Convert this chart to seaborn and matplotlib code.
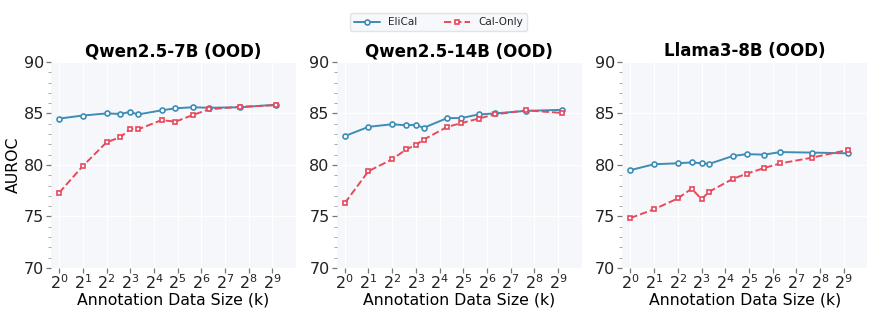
import matplotlib
matplotlib.use('Agg')
import matplotlib.pyplot as plt
import matplotlib.ticker as mticker
import numpy as np
import pandas as pd
import seaborn as sns

# Data (annotation size in k, AUROC)
sizes = [1, 2, 4, 6, 8, 10, 20, 30, 50, 80, 200, 575]

titles = ['Qwen2.5-7B (OOD)', 'Qwen2.5-14B (OOD)', 'Llama3-8B (OOD)']

elical_qwen7 = [84.5, 84.8, 85.0, 84.95, 85.15, 84.9, 85.3, 85.5, 85.6, 85.55, 85.6, 85.85]
calonly_qwen7 = [77.3, 79.9, 82.2, 82.7, 83.5, 83.45, 84.35, 84.2, 84.85, 85.4, 85.65, 85.8]

elical_qwen14 = [82.8, 83.7, 83.95, 83.85, 83.9, 83.6, 84.55, 84.55, 84.9, 85.0, 85.25, 85.35]
calonly_qwen14 = [76.3, 79.4, 80.55, 81.5, 81.95, 82.45, 83.7, 84.05, 84.5, 84.9, 85.3, 85.05]

elical_llama = [79.5, 80.07, 80.16, 80.25, 80.16, 80.1, 80.87, 81.05, 81.0, 81.25, 81.2, 81.13]
calonly_llama = [74.85, 75.7, 76.75, 77.7, 76.68, 77.4, 78.65, 79.15, 79.7, 80.15, 80.7, 81.45]

elical_all = [elical_qwen7, elical_qwen14, elical_llama]
calonly_all = [calonly_qwen7, calonly_qwen14, calonly_llama]

blue = '#3d8db5'
red = '#e8495c'

sns.set_style('darkgrid', {'axes.facecolor': '#f5f7fa', 'grid.color': 'white',
                           'xtick.bottom': True, 'ytick.left': True})
plt.rcParams['font.family'] = ['DejaVu Sans']
plt.rcParams['xtick.major.size'] = 3.5
plt.rcParams['ytick.major.size'] = 3.5
plt.rcParams['ytick.minor.size'] = 2.5

fig, axes = plt.subplots(1, 3, figsize=(8.77, 3.16), dpi=100)
fig.subplots_adjust(left=0.058, right=0.989, top=0.804, bottom=0.152, wspace=0.165)

for i, ax in enumerate(axes):
    df = pd.DataFrame({'size': sizes, 'EliCal': elical_all[i], 'Cal-Only': calonly_all[i]})
    sns.lineplot(data=df, x='size', y='EliCal', ax=ax, color=blue, marker='o',
                 markersize=3.6, markerfacecolor='white', markeredgecolor=blue,
                 markeredgewidth=1.2, linewidth=1.4, label='EliCal')
    sns.lineplot(data=df, x='size', y='Cal-Only', ax=ax, color=red, marker='s',
                 markersize=3.3, markerfacecolor='white', markeredgecolor=red,
                 markeredgewidth=1.2, linewidth=1.4, linestyle='--', label='Cal-Only')
    ax.set_xscale('log', base=2)
    ax.set_xlim(2 ** -0.35, 2 ** 10)
    ax.set_ylim(70, 90)
    ax.xaxis.set_major_locator(mticker.FixedLocator([2 ** k for k in range(10)]))
    ax.xaxis.set_major_formatter(mticker.FuncFormatter(lambda v, p: '$2^{%d}$' % round(np.log2(v))))
    ax.xaxis.set_minor_locator(mticker.NullLocator())
    ax.yaxis.set_major_locator(mticker.MultipleLocator(5))
    ax.yaxis.set_minor_locator(mticker.MultipleLocator(1))
    ax.tick_params(axis='both', which='major', labelsize=11.5, length=3.5, width=0.9,
                   color='#777777', labelcolor='#222222', bottom=True, left=True)
    ax.tick_params(axis='x', which='major', pad=0.5)
    ax.tick_params(axis='y', which='major', pad=1.5)
    ax.tick_params(axis='y', which='minor', length=2.5, width=0.7, color='#aaaaaa', left=True)
    ax.set_title(titles[i], fontsize=12, fontweight='bold', color='black', pad=4)
    ax.set_xlabel('Annotation Data Size (k)', fontsize=11.3, color='black', labelpad=0)
    ax.set_ylabel('AUROC' if i == 0 else '', fontsize=11.3, color='black', labelpad=2)
    for s in ax.spines.values():
        s.set_visible(False)
    ax.get_legend().remove()

handles, labels = axes[0].get_legend_handles_labels()
fig.legend(handles, labels, loc='upper center', bbox_to_anchor=(0.5, 0.975), ncol=2,
           fontsize=7.5, frameon=True, edgecolor='#dddddd', fancybox=True,
           handlelength=2.5, columnspacing=2.5)

fig.savefig('out.png', dpi=100)
